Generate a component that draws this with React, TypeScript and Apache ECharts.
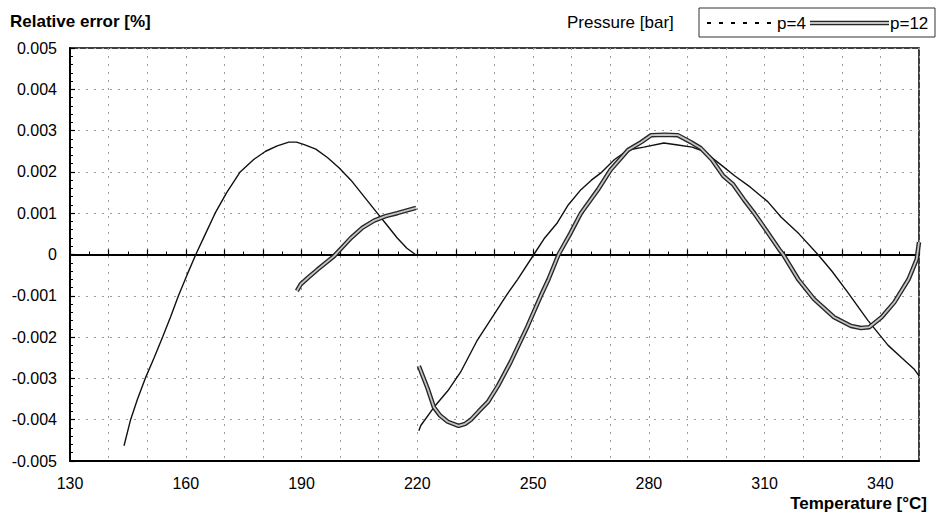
import React, { useEffect, useRef } from "react";
import * as echarts from "echarts";

const FONT = "'Liberation Sans', Arial, sans-serif";

// Axis settings (values)
const X_MIN = 130;
const X_MAX = 350;
const X_LABELS = [130, 160, 190, 220, 250, 280, 310, 340];
const Y_MIN = -0.005;
const Y_MAX = 0.005;
const Y_STEP = 0.001;

const seriesNames = ["p=4", "p=12"];

// p=4, low temperature branch [T, relative error]
const p4Low: [number, number][] = [
  [144.0, -0.00463], [145.7, -0.004], [147.5, -0.0035], [149.5, -0.003],
  [151.8, -0.0025], [154.0, -0.002], [156.1, -0.0015], [158.1, -0.001],
  [160.3, -0.0005], [162.6, 0], [165.1, 0.0005], [167.6, 0.001],
  [170.6, 0.0015], [174.1, 0.002], [177.6, 0.0023], [180.7, 0.0025],
  [183.7, 0.00263], [186.7, 0.00272], [188.7, 0.00272], [190.7, 0.00266],
  [193.7, 0.00255], [196.7, 0.00235], [199.7, 0.0021], [202.8, 0.0018],
  [205.8, 0.00145], [208.8, 0.0011], [211.8, 0.00075], [214.8, 0.0004],
  [217.3, 0.00015], [219.5, 0],
];

// p=4, high temperature branch
const p4High: [number, number][] = [
  [220.4, -0.00427], [220.9, -0.00414], [224.3, -0.0037], [227.9, -0.0033],
  [231.2, -0.00285], [235.4, -0.0021], [239.9, -0.00145], [243.0, -0.001],
  [246.0, -0.0006], [250.2, 0], [253.0, 0.0004], [256.3, 0.00077],
  [259.1, 0.0012], [262.4, 0.00157], [265.1, 0.0018], [267.5, 0.00197],
  [271.1, 0.0023], [274.6, 0.00253], [278.7, 0.0026], [283.9, 0.0027],
  [287.5, 0.00265], [291.2, 0.0026], [294.2, 0.0025], [298.3, 0.0022],
  [302.3, 0.0019], [306.3, 0.00163], [310.8, 0.00128], [314.3, 0.0009],
  [318.9, 0.0005], [323.8, 0], [327.4, -0.0004], [331.4, -0.0009],
  [336.8, -0.0016], [342.0, -0.0022], [345.5, -0.0025], [348.7, -0.00277],
  [350.0, -0.00294],
];

// p=12, low temperature branch
const p12Low: [number, number][] = [
  [188.8, -0.00088], [189.8, -0.00072], [191.8, -0.00055], [194.2, -0.00036],
  [196.3, -0.0002], [198.4, -0.00004], [200.8, 0.0002], [202.8, 0.0004],
  [205.8, 0.00065], [208.8, 0.00082], [211.8, 0.00093], [214.8, 0.001],
  [217.8, 0.00108], [219.7, 0.00113],
];

// p=12, high temperature branch
const p12High: [number, number][] = [
  [220.4, -0.0027], [222.7, -0.00325], [224.3, -0.0037], [225.9, -0.0039],
  [227.9, -0.00405], [230.7, -0.00415], [232.4, -0.0041], [233.9, -0.004],
  [235.9, -0.0038], [238.3, -0.00357], [240.9, -0.00318], [244.2, -0.0026],
  [248.6, -0.00173], [252.0, -0.001], [254.0, -0.0006], [256.6, 0],
  [259.6, 0.0005], [262.4, 0.001], [266.8, 0.00157], [270.1, 0.00205],
  [274.6, 0.00253], [278.0, 0.00272], [280.6, 0.00289], [284.2, 0.0029],
  [287.5, 0.00289], [290.9, 0.00272], [293.4, 0.00258], [296.3, 0.0023],
  [299.3, 0.0019], [301.8, 0.0017], [304.6, 0.00133], [307.3, 0.001],
  [310.3, 0.0006], [313.8, 0.00012], [314.8, 0], [318.7, -0.0006],
  [322.8, -0.00108], [328.0, -0.00152], [332.4, -0.00173], [335.0, -0.00178],
  [337.1, -0.00176], [340.3, -0.00152], [343.6, -0.00116], [347.3, -0.0006],
  [349.4, -0.00012], [350.0, 0.0003],
];

const OUTER = "#262626";
const INNER = "#c4c4c4";

const p4Line = (data: [number, number][]) => ({
  type: "line",
  name: seriesNames[0],
  data,
  showSymbol: false,
  symbol: "none",
  xAxisIndex: 0,
  lineStyle: { color: "#111", width: 1.4 },
  z: 3,
});

const p12Lines = (data: [number, number][]) => [
  {
    type: "line",
    name: seriesNames[1],
    data,
    showSymbol: false,
    symbol: "none",
    xAxisIndex: 0,
    lineStyle: { color: OUTER, width: 4.5 },
    z: 4,
  },
  {
    type: "line",
    name: seriesNames[1] + " inner",
    data,
    showSymbol: false,
    symbol: "none",
    xAxisIndex: 0,
    lineStyle: { color: INNER, width: 1.8 },
    z: 5,
  },
];

export default function App() {
  const ref = useRef<HTMLDivElement>(null);

  useEffect(() => {
    const chart = echarts.init(ref.current!, null, { renderer: "svg" });
    const gridLine = { show: true, lineStyle: { color: "#9a9a9a", type: [2, 6], width: 1 } };
    chart.setOption({
      animation: false,
      backgroundColor: "#fff",
      textStyle: { fontFamily: FONT },
      grid: {
        left: 70,
        right: 19,
        top: 48,
        bottom: 53,
        show: true,
        borderColor: "#000",
        borderWidth: 1.5,
        backgroundColor: "transparent",
      },
      xAxis: [
        {
          type: "value",
          min: X_MIN,
          max: X_MAX,
          interval: 10,
          position: "bottom",
          axisLine: { onZero: false, lineStyle: { color: "#000", width: 2 } },
          axisTick: { show: false },
          axisLabel: {
            color: "#000",
            fontSize: 16,
            fontFamily: FONT,
            margin: 14,
            interval: 0,
            formatter: (v: number) => (X_LABELS.includes(Math.round(v)) ? String(Math.round(v)) : ""),
          },
          splitLine: gridLine,
        },
        {
          type: "value",
          min: X_MIN,
          max: X_MAX,
          interval: 10,
          position: "bottom",
          axisLine: { onZero: true, lineStyle: { color: "#000", width: 2 } },
          axisTick: { show: true, inside: true, length: 5, lineStyle: { color: "#000", width: 1.2 } },
          minorTick: { show: true, splitNumber: 2, length: 3, lineStyle: { color: "#000", width: 1 } },
          axisLabel: { show: false },
          splitLine: { show: false },
        },
      ],
      yAxis: {
        type: "value",
        min: Y_MIN,
        max: Y_MAX,
        interval: Y_STEP,
        axisLine: { onZero: false, lineStyle: { color: "#000", width: 2 } },
        axisTick: { show: true, inside: true, length: 5, lineStyle: { color: "#000", width: 1.2 } },
        minorTick: { show: true, splitNumber: 5, length: 3, lineStyle: { color: "#000", width: 1 } },
        axisLabel: {
          color: "#000",
          fontSize: 16,
          fontFamily: FONT,
          margin: 13,
          formatter: (v: number) => (Math.abs(v) < 1e-9 ? "0" : v.toFixed(3)),
        },
        splitLine: gridLine,
      },
      series: [p4Line(p4Low), p4Line(p4High), ...p12Lines(p12Low), ...p12Lines(p12High)],
      graphic: [
        {
          type: "text",
          x: 10,
          y: 21,
          style: { text: "Relative error [%]", font: `bold 17px ${FONT}`, fill: "#000", verticalAlign: "middle" },
        },
        {
          type: "text",
          x: 567,
          y: 22,
          style: { text: "Pressure [bar]", font: `17px ${FONT}`, fill: "#000", verticalAlign: "middle" },
        },
        {
          type: "rect",
          shape: { x: 699, y: 8, width: 236, height: 29 },
          style: { fill: "none", stroke: "#333", lineWidth: 1 },
        },
        {
          type: "line",
          shape: { x1: 707, y1: 23, x2: 774, y2: 23 },
          style: { stroke: "#000", lineWidth: 2, lineDash: [4, 8] },
        },
        {
          type: "text",
          x: 777,
          y: 23,
          style: { text: seriesNames[0], font: `17px ${FONT}`, fill: "#000", verticalAlign: "middle" },
        },
        {
          type: "line",
          shape: { x1: 810, y1: 23, x2: 889, y2: 23 },
          style: { stroke: OUTER, lineWidth: 4.5 },
        },
        {
          type: "line",
          shape: { x1: 810, y1: 23, x2: 889, y2: 23 },
          style: { stroke: INNER, lineWidth: 1.8 },
        },
        {
          type: "text",
          x: 890,
          y: 23,
          style: { text: seriesNames[1], font: `17px ${FONT}`, fill: "#000", verticalAlign: "middle" },
        },
        {
          type: "text",
          x: 927,
          y: 503,
          style: {
            text: "Temperature [°C]",
            font: `bold 17px ${FONT}`,
            fill: "#000",
            align: "right",
            verticalAlign: "middle",
          },
        },
      ],
    });
    return () => chart.dispose();
  }, []);

  return (
    <div
      ref={ref}
      style={{ position: "fixed", left: 0, top: 0, width: 938, height: 514, background: "#fff" }}
    />
  );
}
